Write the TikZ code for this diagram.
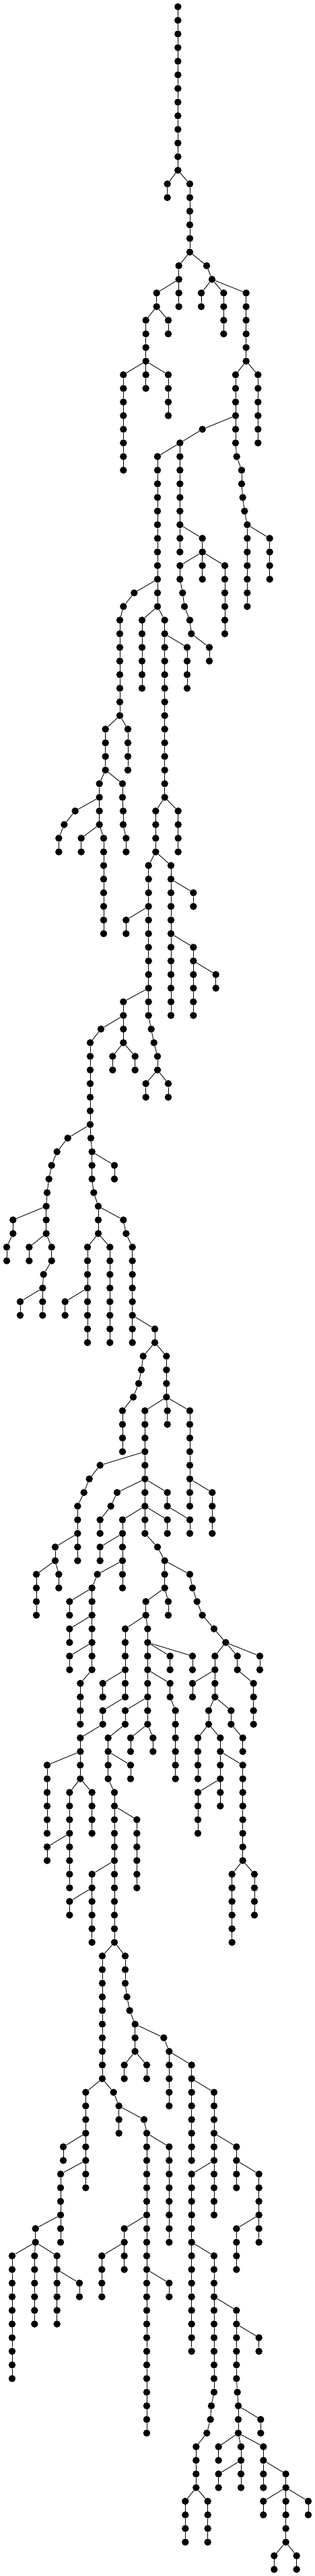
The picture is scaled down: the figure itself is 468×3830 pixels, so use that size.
\documentclass[tikz,border=0pt]{standalone}
\usepackage{tikz}

\begin{document}
\begin{tikzpicture}[x=0.33333pt,y=-20.2667pt]
\tikzset{vertex/.style={circle,fill=black,inner sep=0pt,minimum size=10.5pt},
  branch/.style={line width=0.9pt}}

% Page frame
\useasboundingbox (0pt,10pt) rectangle (468pt,-3820pt);

% Root
\node[vertex] (A-0) at (793,0) {};

% Chains of vertices: name/parent/x/first level/last level
\foreach \ch/\up/\xx/\ia/\ib in {
  A/A/793/1/12, B/A/746/13/14, C/A/846/13/18,
  D/C/797/19/22, E/D/698/21/22, F/E/650/23/28, G/F/550/27/34, H/F/750/27/30,
  I/E/750/23/24, J/C/921/19/19, K/J/945/20/20, L/K/897/21/22, M/K/997/21/24,
  N/K/1097/21/26, O/N/1050/27/32, P/N/1150/27/32, Q/O/902/31/31,
  R/Q/802/32/40, S/R/702/33/44,
  O1/O/1055/33/33, O2/O1/1077/34/35, O3/O2/1082/36/36, O4/O3/1090/37/37,
  O5/O4/1102/38/44, O6/O5/1202/39/42,
  T/R/902/39/40, U/T/802/41/42, U1/U/814/43/43, U2/U1/822/44/44,
  U3/U2/846/45/45, U4/U3/853/46/46, U5/U4/933/47/48,
  V/T/902/41/42, W/T/1002/41/46,
  X/S/598/43/43, X1/X/550/44/44, X2/X1/534/45/52,
  Y/S/633/45/50, Z/S/734/45/58, AA/Z/834/47/50,
  AB/X2/470/53/56, AC/X2/570/53/56, AD/AB/443/57/60,
  AE/AB/546/57/58, AE1/AE/549/59/60, AE2/AE1/562/61/62,
  AF/AD/335/59/59, AF1/AF/286/60/60, AF2/AF1/262/61/62,
  AG/AD/362/61/62, AH/AD/462/61/68,
  AI/Z/694/59/62, AJ/Z/794/59/62,
  AK/AI/662/63/74, AL/AI/762/63/74, AM/AK/562/67/68,
  AN/AL/862/65/66, AO/AL/862/69/74, AP/AO/962/71/72,
  AQ/AK/550/73/76, AK1/AK/674/75/75, AK2/AK1/686/76/76, AK3/AK2/702/77/78,
  AR/AQ/450/75/75, AR1/AR/402/76/82, AS/AQ/502/77/78, AT/AQ/602/77/78,
  AU/AK3/650/79/80, AV/AK3/750/79/80,
  AW/AR1/405/83/83, AW1/AW/410/84/86, AW2/AW1/418/87/87, AW3/AW2/438/88/90,
  AX/AW1/510/85/86, AY/AW3/550/89/89, AY1/AY/562/90/90, AY2/AY1/590/91/98,
  AZ/AW3/390/91/98, BA/AW3/490/91/98,
  BB/AR1/302/83/83, BB1/BB/254/84/84, BB2/BB1/230/85/85, BB3/BB2/218/86/86,
  BB4/BB3/210/87/87, BB5/BB4/206/88/90,
  BC/BB5/58/89/90, BC1/BC/30/91/92, BD/BB5/130/91/92,
  BE/BB5/230/91/92, BE1/BE/194/93/93, BE2/BE1/190/94/96,
  BF/BE2/90/95/96, BG/AZ/290/95/96,
  BH/AY2/690/97/98, BI/BH/638/99/99, BI1/BI/630/100/100, BI2/BI1/618/101/101,
  BI3/BI2/594/102/102, BI4/BI3/546/103/106,
  BJ/BH/742/99/102, BK/BJ/646/103/112, BL/BJ/746/103/104, BM/BJ/846/103/110,
  BN/BK/446/107/107, BN1/BN/398/108/108, BN2/BN1/374/109/109, BN3/BN2/346/110/114,
  BO/BK/522/109/109, BO1/BO/494/110/110, BP/BK/746/109/110, BQ/BM/946/109/112,
  BR/BN3/246/113/114, BS/BR/162/115/118, BT/BR/262/115/116,
  BU/BO1/446/111/112, BV/BK/546/111/116, BW/BK/746/111/112, BX/BP/846/111/112,
  BY/BV/446/113/114, BZ/BV/434/115/115, BZ1/BZ/410/116/122,
  CA/BZ1/310/117/118, CB/BZ1/310/119/120, CC/BZ1/310/121/122, CD/BZ1/358/123/126,
  BK1/BK/702/113/113, BK2/BK1/734/114/116,
  CE/BK2/846/115/115, CE1/CE/858/116/116, CE2/CE1/878/117/117,
  CE3/CE2/902/118/118, CE4/CE3/954/119/119, CE5/CE4/1006/120/120,
  CF/BK2/650/117/118, CG/BK2/750/117/118,
  CH/CF/558/119/124, CI/CF/658/119/126,
  CJ/CI/758/121/122, CK/CI/858/121/122, CL/CI/758/123/124, CL1/CL/782/125/130,
  CM/CH/458/123/124, CN/CH/458/125/126, CO/CI/558/125/126,
  CP/CE5/958/121/124, CQ/CE5/1058/121/122, CR/CE5/1158/121/122,
  CS/CP/858/123/124, CT/CQ/1130/123/126, CU/CP/930/125/126, CV/CP/1030/125/126,
  CW/CN/358/127/130, CX/CW/210/129/134, CY/CW/310/131/138, CZ/CY/210/135/136,
  DA/CW/410/131/134, DB/CO/482/127/130, DC/DB/582/129/130, DD/DB/510/131/142,
  DE/DD/610/133/138, DF/DD/410/137/142, DG/DF/310/139/140,
  DH/CI/582/127/128, DI/CI/682/127/128,
  DJ/CU/882/127/130, DK/CU/982/127/132, DL/DK/882/131/134, DM/DK/1082/129/136,
  DN/CV/1082/127/128, DO/DM/1034/137/142, DP/DM/1134/137/140,
  DQ/DD/456/143/152, DR/DD/558/143/145, DR1/DR/566/146/146, DR2/DR1/578/147/147,
  DR3/DR2/602/148/150, DS/DR3/554/151/152, DT/DR3/654/151/152,
  DU/DR3/730/149/149, DU1/DU/754/150/154,
  DV/DU1/854/151/158, DW/DV/954/153/162, DX/DW/1054/157/160,
  DY/DQ/382/153/160, DZ/DY/282/157/158,
  EA/DQ/506/153/153, EA1/EA/530/154/156, EB/EA1/642/155/155, EB1/EB/654/156/178,
  EC/EB1/754/157/164, ED/DY/270/159/164, EE/ED/158/163/164,
  EF/EE/54/165/174, EG/EE/154/165/170, EH/EE/254/165/170, EI/EH/354/167/168,
  EJ/EB1/554/163/166, EK/EJ/454/165/168, EL/EB1/754/167/168,
  EM/DW/854/159/172, EN/EM/954/165/175,
  EN1/EN/942/176/176, EN2/EN1/938/177/177, EN3/EN2/922/178/178, EN4/EN3/874/179/182,
  EO/EN4/826/183/186, EP/EN4/926/183/186,
  EQ/DX/1154/159/164, ER/EQ/1054/163/166,
  ES/EN/1054/169/174, ES1/ES/1058/175/175, ES2/ES1/1062/176/178,
  ET/ES/1154/171/172, EU/ES2/1162/177/178,
  EV/ES2/974/179/180, EW/ES2/1074/179/182, EX/EW/974/181/182,
  EY/ES2/1174/179/182, EZ/EY/1274/181/186,
  FA/EZ/1174/183/184, FB/EZ/1374/183/184, FC/EZ/1222/187/188, FD/EZ/1322/187/188}
{
  \foreach \lv in {\ia,...,\ib} {
    \pgfmathtruncatemacro{\prev}{\lv-1}
    \node[vertex] (\ch-\lv) at (\xx,\lv) {};
    \ifnum\lv=\ia
      \draw[branch] (\up-\prev) -- (\ch-\lv);
    \else
      \draw[branch] (\ch-\prev) -- (\ch-\lv);
    \fi
  }
}

\end{tikzpicture}
\end{document}
